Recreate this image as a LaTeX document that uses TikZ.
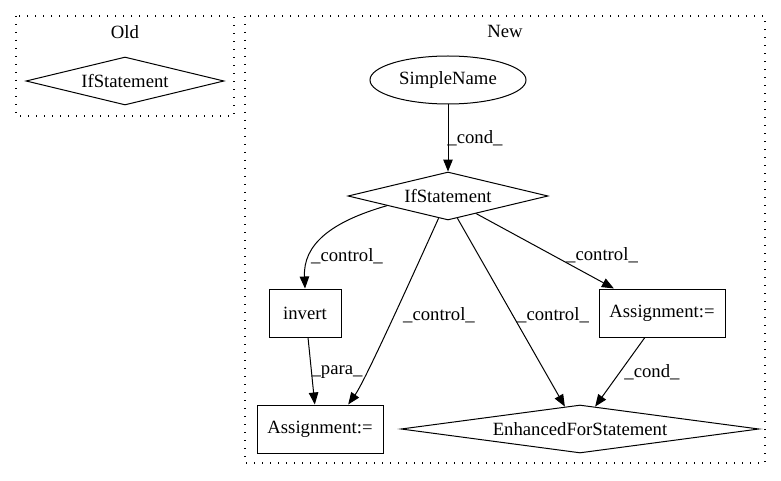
\documentclass[tikz,border=0pt]{standalone}
\usepackage{fontspec}
\setmainfont{Liberation Serif}
\usetikzlibrary{arrows.meta,shapes.geometric}
\tikzset{
	cluster/.style={line width=1.3pt, dash pattern=on 1.4pt off 6.6pt},
	rulebox/.style={draw, line width=1pt, rectangle, inner sep=0pt, minimum height=48pt},
	rulediamond/.style={draw, line width=1pt, diamond, inner sep=0pt, minimum height=48pt},
	rulename/.style={draw, line width=1pt, ellipse, inner sep=0pt, minimum height=48pt},
	edge/.style={line width=1pt, -{Triangle[length=12pt,width=9.5pt]}},
	elabel/.style={inner sep=0pt}
}

\begin{document}
\begin{tikzpicture}[x=1pt, y=1pt, font=\fontsize{18.7}{22}\selectfont]
			%%%%% START %%%%%
			\useasboundingbox (0, 0) rectangle (781, 480);
			
			% clusters
			\draw[cluster] (16, 464) rectangle (234, 364);
			\node (oldlabel) at (125, 448) {Old};
			\draw[cluster] (245, 464) rectangle (765, 17);
			\node (newlabel) at (505, 449) {New};
			
			% old graph
			\node[rulediamond, shape aspect=4.17, minimum width=198pt] (oldif) at (125, 399) {IfStatement};
			
			% new graph
			\node[rulename, minimum width=156pt] (sname) at (448, 400) {SimpleName};
			\node[rulediamond, shape aspect=4.17, minimum width=200pt] (ifs) at (448, 284) {IfStatement};
			\node[rulebox, minimum width=72pt] (invert) at (305, 167) {invert};
			\node[rulebox, minimum width=126pt] (assignl) at (320, 51) {Assignment:=};
			\node[rulebox, minimum width=126pt] (assignr) at (662, 167) {Assignment:=};
			\node[rulediamond, shape aspect=7.46, minimum width=358pt] (enhfor) at (580, 51) {EnhancedForStatement};
			
			% edges
			\draw[edge] (sname) -- (ifs);
			\draw[edge] (ifs.189) .. controls (330, 258) and (303, 235) .. (invert.north);
			\draw[edge] (ifs.247) .. controls (376, 123) and (360, 92) .. (assignl.41);
			\draw[edge] (ifs.293) -- (enhfor.124);
			\draw[edge] (ifs.328) -- (assignr.153);
			\draw[edge] (invert.277) -- (assignl.102);
			\draw[edge] (assignr.235) -- (enhfor.56);
			
			% edge labels
			\node[elabel] (lcond) at (475, 342) {\_cond\_};
			\node[elabel] (lctrla) at (347, 224) {\_control\_};
			\node[elabel] (lctrlb) at (439, 165) {\_control\_};
			\node[elabel] (lctrlc) at (553, 165) {\_control\_};
			\node[elabel] (lctrld) at (602, 225) {\_control\_};
			\node[elabel] (lpara) at (337, 108) {\_para\_};
			\node[elabel] (lcondb) at (652, 108) {\_cond\_};
			
			%%%%% END %%%%%
\end{tikzpicture}
\end{document}
